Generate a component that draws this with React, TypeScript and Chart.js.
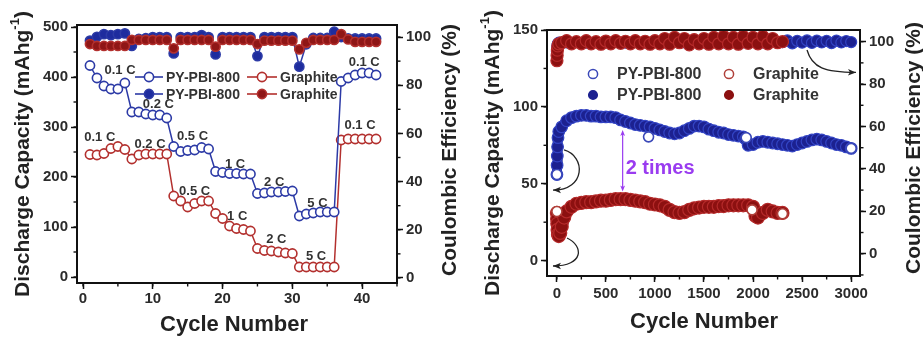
import React, { useEffect, useRef } from 'react';
import { Chart, registerables } from 'chart.js';

Chart.register(...registerables);

const FONT = '"Liberation Sans", Arial, Helvetica, sans-serif';

// ---------------- Panel (a): rate capability ----------------
const rateCycles = [1,2,3,4,5,6,7,8,9,10,11,12,13,14,15,16,17,18,19,20,21,22,23,24,25,26,27,28,29,30,31,32,33,34,35,36,37,38,39,40,41,42];
const pyRateCapacity = [423,398,382,376,376,388, 330,330,326,324,324,318, 261,251,253,254,259,256, 211,209,207,207,206,206, 167,168,170,170,171,172, 122,126,128,130,130,130, 391,398,404,408,408,404];
const grRateCapacity = [245,244,247,257,261,255, 236,244,246,246,246,246, 162,152,140,147,152,152, 127,117,102,97,95,92, 57,53,52,50,48,47, 20,20,20,20,20,20, 274,276,276,276,276,276];
const pyRateCE = [98.5,100.1,101.2,100.8,101.2,101.5, 96.3,99.2,99.5,100,100,100, 93.2,100,100,100,100.8,100, 92.8,100,100,100,100,100, 92.1,100,100,100,100,100, 87.7,97,99.6,99.6,99.6,102.2, 100,99.4,99.4,99.4,99.4,99.4];
const grRateCE = [97.1,96.3,96.3,96.3,96.3,96.3, 98.8,98.8,98.8,98.8,98.8,98.8, 95.3,98.8,98.8,98.8,98.8,98.8, 96,98.8,98.8,98.8,98.8,98.8, 97.1,98.5,98.5,98.5,98.5,98.5, 94.9,97.6,98.8,98.8,98.8,98.8, 101.2,99,98,98,98,98];
const rateXTicks = [0,10,20,30,40];
const rateYTicks = [0,100,200,300,400,500];
const rateCETicks = [0,20,40,60,80,100];
const rateLabelText = ['0.1 C','0.2 C','0.5 C','1 C','2 C','5 C','0.1 C'];
const pyLabelX = [5.3,10.8,15.7,21.8,27.4,33.6,40.3];
const pyLabelY = [413,345,281,226,189,147,429];
const grLabelX = [2.4,9.6,16.0,22.1,27.7,33.4,39.7];
const grLabelY = [279,266,172,122,75,42,303];

// ---------------- Panel (b): long cycling ----------------
const pyLongCycles = [1,3,5,8,12,20,50,100,150,200,250,300,350,400,450,500,550,600,650,700,750,800,850,900,950,1000,1050,1100,1150,1200,1250,1300,1350,1400,1450,1500,1550,1600,1650,1700,1750,1800,1850,1900,1925,1950,2000,2050,2100,2150,2200,2250,2300,2350,2400,2450,2500,2550,2600,2650,2700,2750,2800,2850,2900,2950,3000];
const pyLongCapacity = [56,62,68,74,80,84,87,91,93,94,94.5,94.5,94,94,93.5,93.5,93.5,93,91.5,90.5,89.5,88.5,88,87.5,87,86,85,84,83,82.5,83,84.5,86,87.5,87.5,87,85.5,84.5,83.5,83,82,81.5,81,80.5,79,75,75.5,77,77.5,77,76.5,76,75.5,75,74.5,75.5,76.5,77.5,78.5,79,78.5,77.5,76.5,75.5,75,74,73];
const grLongCycles = [1,3,5,8,12,20,35,50,75,100,150,200,250,300,350,400,450,500,550,600,650,700,750,800,850,900,950,1000,1050,1100,1150,1200,1250,1300,1350,1400,1450,1500,1550,1600,1650,1700,1750,1800,1850,1900,1950,2000,2025,2050,2100,2150,2200,2250,2300];
const grLongCapacity = [31,27,24,20,17,16,18,22,28,32,35,37,37.5,38,38,38.5,39,39,39.5,40,40,40,39.5,39,38.5,38,37,36.5,36,35,33,31.5,31,31.5,33,34,34.5,35,35,35,35.5,35.5,36,36,36,36,36,35,29,28,31,33,32,31,31];
const pyOpenCycles = [1,935,1930,3000];
const pyOpenCapacity = [56,80.5,80,73];
const grOpenCycles = [1,1990,2300];
const grOpenCapacity = [32,33,30.5];
const grCECycles = [1,3,6,10,20,50,100,150,200,250,300,350,400,450,500,550,600,650,700,750,800,850,900,950,1000,1050,1100,1150,1200,1250,1300,1350,1400,1450,1500,1550,1600,1650,1700,1750,1800,1850,1900,1950,2000,2050,2100,2150,2200,2250,2300];
const grLongCE = [91,93.5,96,98,99,99.5,100.5,99,100,99,100.5,99,100,98.8,100.3,99,100.5,99.2,100.2,99,100.5,99,100.2,98.8,100.5,99,101.5,98.8,102,99.5,101.5,98.5,101,99,101.5,98.8,102,99,102.5,99,102,98.8,102.5,99.2,102,99,102.5,99,101.5,99.5,100];
const pyCECycles = [1,3,6,10,20,100,300,500,700,900,1100,1300,1500,1700,1900,2100,2300,2350,2400,2450,2500,2550,2600,2650,2700,2750,2800,2850,2900,2950,3000];
const pyLongCE = [95.4,96.5,98,99,99.5,99.6,99.5,99.6,99.5,99.6,99.7,99.6,99.7,99.6,99.7,99.6,99.8,100.6,99.2,100.4,99.5,100.6,99.4,100.5,99.6,100.4,99.3,100.5,99.6,100.3,99.8];
const longXTicks = [0,500,1000,1500,2000,2500,3000];
const longYTicks = [0,50,100,150];
const longCETicks = [0,20,40,60,80,100];
// annotation arrows (cycle, capacity) : start, control 1, control 2, end
const arrowStart = [[2550,137],[73,72],[104,14.7]];
const arrowCtrl1 = [[2601,125.3],[297,68],[277,9.5]];
const arrowCtrl2 = [[2733,122.7],[297,45.9],[277,-3.5]];
const arrowEnd = [[3049,122.4],[-39,45.9],[-39,-3.5]];
const ratioCycle = 671;
const ratioTop = 85;
const ratioBottom = 45;

// ---------------- helpers ----------------
const zip = (xs: number[], ys: number[]) => xs.map((x, i) => ({ x, y: ys[i] }));
const TICK_FONT = { family: FONT, size: 15, weight: 'bold' as const };

function makeAxis(position: string, min: number, max: number, ticks: number[], size: number, padding: number) {
  const horizontal = position === 'bottom';
  return {
    type: 'linear' as const,
    position,
    min,
    max,
    afterBuildTicks: (s: any) => { s.ticks = ticks.map((v) => ({ value: v })); },
    afterFit: (s: any) => { if (horizontal) s.height = size; else s.width = size; },
    ticks: { font: TICK_FONT, color: '#2b2b2b', padding, autoSkip: false, maxRotation: 0, minRotation: 0, callback: (v: any) => String(v) },
    grid: { display: true, drawOnChartArea: false, drawTicks: true, tickLength: 6, tickWidth: 1.5, tickColor: '#111' },
    border: { display: false },
  };
}

type Minor = { id: string; step: number; side: 'left' | 'right' | 'bottom' };

function framePlugin(minors: Minor[]) {
  return {
    id: 'frame',
    afterDatasetsDraw(chart: any) {
      const { ctx, chartArea: a } = chart;
      ctx.save();
      ctx.strokeStyle = '#111';
      ctx.lineWidth = 1.4;
      for (const m of minors) {
        const s = chart.scales[m.id];
        const start = Math.ceil(s.min / m.step) * m.step;
        for (let v = start; v <= s.max + 1e-9; v += m.step) {
          const p = s.getPixelForValue(v);
          ctx.beginPath();
          if (m.side === 'left') { ctx.moveTo(a.left, p); ctx.lineTo(a.left - 3.5, p); }
          else if (m.side === 'right') { ctx.moveTo(a.right, p); ctx.lineTo(a.right + 3.5, p); }
          else { ctx.moveTo(p, a.bottom); ctx.lineTo(p, a.bottom + 3.5); }
          ctx.stroke();
        }
      }
      ctx.lineWidth = 2;
      ctx.strokeRect(a.left, a.top, a.right - a.left, a.bottom - a.top);
      ctx.restore();
    },
  };
}

function drawTitle(ctx: CanvasRenderingContext2D, parts: [string, boolean][], cx: number, cy: number, rot: number, size: number) {
  ctx.save();
  ctx.translate(cx, cy);
  ctx.rotate(rot);
  ctx.fillStyle = '#222';
  ctx.textBaseline = 'middle';
  ctx.textAlign = 'left';
  const main = `bold ${size}px ${FONT}`;
  const sup = `bold ${Math.round(size * 0.62)}px ${FONT}`;
  let total = 0;
  const widths = parts.map(([t, s]) => { ctx.font = s ? sup : main; const w = ctx.measureText(t).width; total += w; return w; });
  let x = -total / 2;
  parts.forEach(([t, s], i) => { ctx.font = s ? sup : main; ctx.fillText(t, x, s ? -size * 0.38 : 0); x += widths[i]; });
  ctx.restore();
}

function circle(ctx: CanvasRenderingContext2D, x: number, y: number, r: number, fill: string, stroke: string, lw: number) {
  ctx.beginPath();
  ctx.arc(x, y, r, 0, Math.PI * 2);
  ctx.fillStyle = fill;
  ctx.fill();
  ctx.lineWidth = lw;
  ctx.strokeStyle = stroke;
  ctx.stroke();
}

function arrowHead(ctx: CanvasRenderingContext2D, x: number, y: number, ang: number, len: number, color: string) {
  ctx.save();
  ctx.translate(x, y);
  ctx.rotate(ang);
  ctx.beginPath();
  ctx.moveTo(0, 0);
  ctx.lineTo(-len, -len * 0.4);
  ctx.lineTo(-len * 0.75, 0);
  ctx.lineTo(-len, len * 0.4);
  ctx.closePath();
  ctx.fillStyle = color;
  ctx.fill();
  ctx.restore();
}

const BLUE = '#2c3aa6';
const BLUE_F = '#1e2c9e';
const RED = '#b3302e';
const RED_F = '#8f1616';

function buildRate(): any {
  const deco = {
    id: 'rateDeco',
    afterDraw(chart: any) {
      const ctx: CanvasRenderingContext2D = chart.ctx;
      const xs = chart.scales.x;
      const ys = chart.scales.y;
      ctx.save();
      ctx.font = `bold 13px ${FONT}`;
      ctx.fillStyle = '#333';
      ctx.textAlign = 'center';
      ctx.textBaseline = 'middle';
      rateLabelText.forEach((t, i) => {
        ctx.fillText(t, xs.getPixelForValue(pyLabelX[i]), ys.getPixelForValue(pyLabelY[i]));
        ctx.fillText(t, xs.getPixelForValue(grLabelX[i]), ys.getPixelForValue(grLabelY[i]));
      });
      const rows: [number, boolean][] = [[77, false], [94, true]];
      ctx.font = `bold 14px ${FONT}`;
      ctx.textAlign = 'left';
      for (const [y, filled] of rows) {
        const entries: [number, number, string, string, string][] = [
          [135, 163, BLUE, filled ? BLUE_F : '#fff', 'PY-PBI-800'],
          [247, 277, RED, filled ? RED_F : '#fff', 'Graphite'],
        ];
        for (const [x0, x1, c, f, label] of entries) {
          ctx.beginPath();
          ctx.moveTo(x0, y); ctx.lineTo(x1, y);
          ctx.strokeStyle = c; ctx.lineWidth = 1.6; ctx.stroke();
          circle(ctx, (x0 + x1) / 2, y, 4.6, f, c, 1.6);
          ctx.fillStyle = '#333';
          ctx.fillText(label, x1 + 3, y + 1);
        }
      }
      ctx.restore();
      drawTitle(ctx, [['Discharge Capacity (mAhg', false], ['-1', true], [')', false]], 23, 154, -Math.PI / 2, 21);
      drawTitle(ctx, [['Coulombic Efficiency (%)', false]], 450, 150, -Math.PI / 2, 21);
      drawTitle(ctx, [['Cycle Number', false]], 234, 325, 0, 22);
    },
  };
  const common = { borderWidth: 1.5, pointRadius: 4.6, pointBorderWidth: 1.6, tension: 0, pointHoverRadius: 4.6 };
  return {
    type: 'line',
    data: {
      datasets: [
        { label: 'PY-PBI-800', data: zip(rateCycles, pyRateCapacity), yAxisID: 'y', borderColor: BLUE, pointBackgroundColor: '#fff', pointBorderColor: BLUE, order: 1, ...common },
        { label: 'Graphite', data: zip(rateCycles, grRateCapacity), yAxisID: 'y', borderColor: RED, pointBackgroundColor: '#fff', pointBorderColor: RED, order: 2, ...common },
        { label: 'PY-PBI-800 CE', data: zip(rateCycles, pyRateCE), yAxisID: 'y1', borderColor: BLUE, pointBackgroundColor: BLUE_F, pointBorderColor: BLUE, order: 4, ...common },
        { label: 'Graphite CE', data: zip(rateCycles, grRateCE), yAxisID: 'y1', borderColor: RED, pointBackgroundColor: RED_F, pointBorderColor: RED, order: 3, ...common },
      ],
    },
    options: {
      animation: false,
      responsive: false,
      events: [],
      layout: { padding: { top: 25, left: 0, right: 0, bottom: 0 } },
      plugins: { legend: { display: false }, tooltip: { enabled: false } },
      scales: {
        x: makeAxis('bottom', -0.86, 45, rateXTicks, 55, 1),
        y: makeAxis('left', -12, 504, rateYTicks, 77, 3),
        y1: makeAxis('right', -2.1, 105, rateCETicks, 65, 3),
      },
    },
    plugins: [framePlugin([{ id: 'y', step: 50, side: 'left' }, { id: 'x', step: 5, side: 'bottom' }, { id: 'y1', step: 10, side: 'right' }]), deco],
  };
}

const NAVY = '#1c2190';
const NAVY_E = '#3344c4';
const MAROON = '#8c1010';
const MAROON_E = '#b52a2a';
const PURPLE = '#9a3cf0';

function buildLong(): any {
  const deco = {
    id: 'longDeco',
    afterDatasetsDraw(chart: any) {
      const ctx: CanvasRenderingContext2D = chart.ctx;
      const xs = chart.scales.x;
      const ys = chart.scales.y;
      const P = (p: number[]) => [xs.getPixelForValue(p[0]), ys.getPixelForValue(p[1])];
      ctx.save();
      ctx.strokeStyle = '#222';
      ctx.lineWidth = 1.3;
      arrowStart.forEach((s, i) => {
        const a = P(s), b = P(arrowCtrl1[i]), c = P(arrowCtrl2[i]), d = P(arrowEnd[i]);
        ctx.beginPath();
        ctx.moveTo(a[0], a[1]);
        ctx.bezierCurveTo(b[0], b[1], c[0], c[1], d[0], d[1]);
        ctx.stroke();
        arrowHead(ctx, d[0], d[1], Math.atan2(d[1] - c[1], d[0] - c[0]), 8, '#222');
      });
      const x = xs.getPixelForValue(ratioCycle);
      const yt = ys.getPixelForValue(ratioTop);
      const yb = ys.getPixelForValue(ratioBottom);
      ctx.strokeStyle = PURPLE;
      ctx.lineWidth = 1.2;
      ctx.beginPath();
      ctx.moveTo(x, yt + 3); ctx.lineTo(x, yb - 3);
      ctx.stroke();
      arrowHead(ctx, x, yt, -Math.PI / 2, 6, PURPLE);
      arrowHead(ctx, x, yb, Math.PI / 2, 6, PURPLE);
      ctx.font = `bold 20px ${FONT}`;
      ctx.fillStyle = PURPLE;
      ctx.textAlign = 'left';
      ctx.textBaseline = 'middle';
      ctx.fillText('2 times', x + 3, ys.getPixelForValue(60.2));
      ctx.restore();
    },
    afterDraw(chart: any) {
      const ctx: CanvasRenderingContext2D = chart.ctx;
      ctx.save();
      ctx.font = `bold 16px ${FONT}`;
      ctx.textAlign = 'left';
      ctx.textBaseline = 'middle';
      const rows: [number, boolean][] = [[74, false], [95, true]];
      for (const [y, filled] of rows) {
        circle(ctx, 131, y, filled ? 4.3 : 4.6, filled ? NAVY : '#fff', filled ? NAVY : '#3a48b8', 1.5);
        circle(ctx, 267, y, filled ? 4.3 : 4.6, filled ? MAROON : '#fff', filled ? MAROON : '#b0403a', 1.5);
        ctx.fillStyle = '#333';
        ctx.fillText('PY-PBI-800', 155, y + 1);
        ctx.fillText('Graphite', 291, y + 1);
      }
      ctx.restore();
      drawTitle(ctx, [['Discharge Capacity (mAhg', false], ['-1', true], [')', false]], 31, 153, -Math.PI / 2, 21);
      drawTitle(ctx, [['Coulombic Efficiency (%)', false]], 452, 148, -Math.PI / 2, 21);
      drawTitle(ctx, [['Cycle Number', false]], 242, 322, 0, 22);
    },
  };
  const band = { tension: 0, borderJoinStyle: 'round', borderCapStyle: 'round', pointBorderWidth: 1.2 };
  return {
    type: 'line',
    data: {
      datasets: [
        { label: 'PY-PBI-800 CE', data: zip(pyCECycles, pyLongCE), yAxisID: 'y1', borderColor: NAVY, borderWidth: 10, pointRadius: 5.5, pointBackgroundColor: NAVY, pointBorderColor: NAVY_E, order: 6, ...band },
        { label: 'Graphite CE', data: zip(grCECycles, grLongCE), yAxisID: 'y1', borderColor: MAROON, borderWidth: 11, pointRadius: 6, pointBackgroundColor: MAROON, pointBorderColor: MAROON_E, order: 5, ...band },
        { label: 'Graphite', data: zip(grLongCycles, grLongCapacity), yAxisID: 'y', borderColor: MAROON, borderWidth: 12, pointRadius: 6.5, pointBackgroundColor: MAROON, pointBorderColor: MAROON_E, order: 4, ...band },
        { label: 'PY-PBI-800', data: zip(pyLongCycles, pyLongCapacity), yAxisID: 'y', borderColor: NAVY, borderWidth: 10, pointRadius: 5.8, pointBackgroundColor: NAVY, pointBorderColor: NAVY_E, order: 3, ...band },
        { label: 'Graphite open', data: zip(grOpenCycles, grOpenCapacity), yAxisID: 'y', showLine: false, pointRadius: 5, pointBorderWidth: 1.6, pointBackgroundColor: '#fff', pointBorderColor: '#b0403a', order: 2 },
        { label: 'PY-PBI-800 open', data: zip(pyOpenCycles, pyOpenCapacity), yAxisID: 'y', showLine: false, pointRadius: 5, pointBorderWidth: 1.6, pointBackgroundColor: '#fff', pointBorderColor: '#3a48b8', order: 1 },
      ],
    },
    options: {
      animation: false,
      responsive: false,
      events: [],
      layout: { padding: { top: 30, left: 0, right: 0, bottom: 0 } },
      plugins: { legend: { display: false }, tooltip: { enabled: false } },
      scales: {
        x: makeAxis('bottom', -100, 3090, longXTicks, 62, 3),
        y: makeAxis('left', -10, 150, longYTicks, 85, 3),
        y1: makeAxis('right', -10.5, 105.5, longCETicks, 63, 3),
      },
    },
    plugins: [framePlugin([{ id: 'y', step: 25, side: 'left' }, { id: 'x', step: 250, side: 'bottom' }, { id: 'y1', step: 10, side: 'right' }]), deco],
  };
}

function ChartCanvas({ width, height, build }: { width: number; height: number; build: () => any }) {
  const ref = useRef<HTMLCanvasElement>(null);
  useEffect(() => {
    const chart = new Chart(ref.current as HTMLCanvasElement, build());
    return () => chart.destroy();
  }, []);
  return <canvas ref={ref} width={width} height={height} style={{ display: 'block', width, height }} />;
}

export default function App() {
  return (
    <div style={{ position: 'fixed', left: 0, top: 0, width: 923, height: 338, background: '#fff', overflow: 'hidden' }}>
      <div style={{ position: 'absolute', left: 0, top: 0 }}>
        <ChartCanvas width={462} height={338} build={buildRate} />
      </div>
      <div style={{ position: 'absolute', left: 462, top: 0 }}>
        <ChartCanvas width={461} height={338} build={buildLong} />
      </div>
    </div>
  );
}
